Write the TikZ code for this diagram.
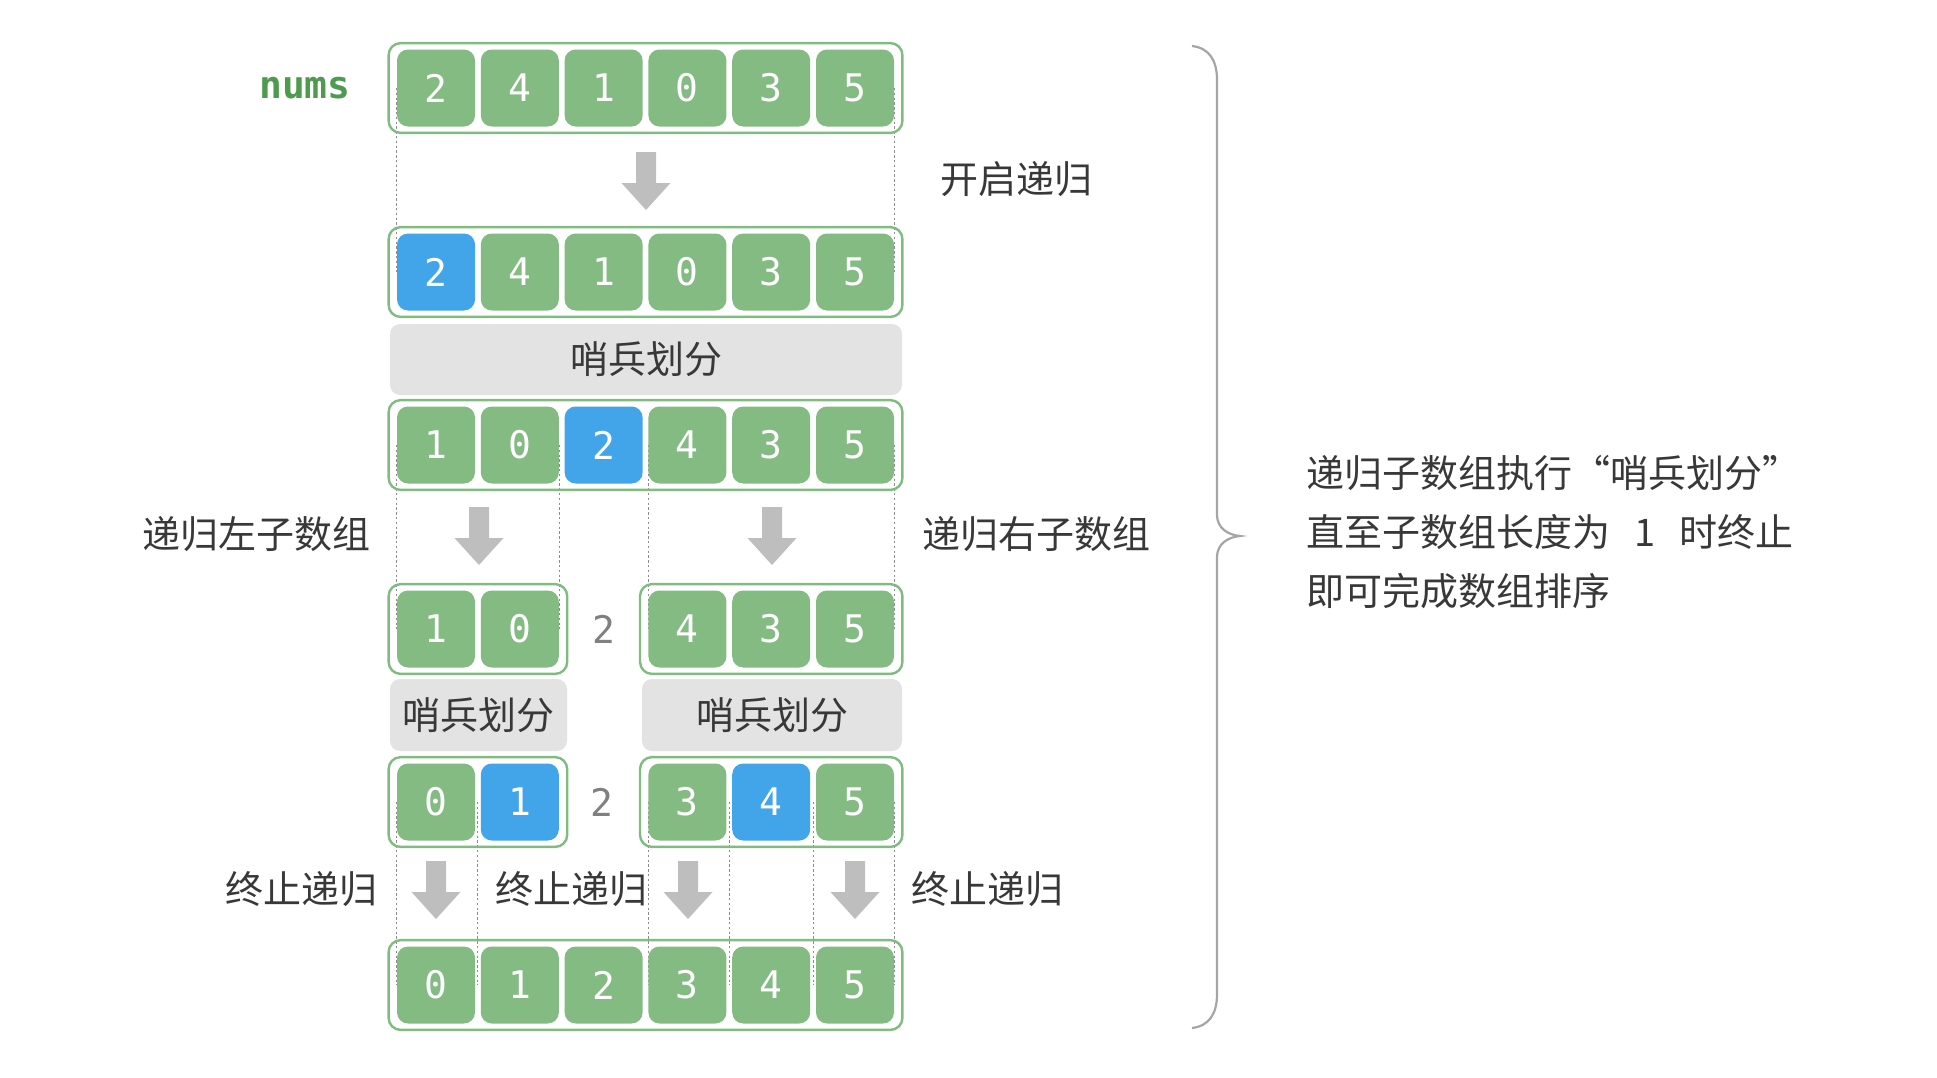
\documentclass[tikz,border=0pt]{standalone}
\usepackage{fontspec}
\newfontfamily\cjk{Noto Sans CJK SC}
\newfontfamily\mono{DejaVu Sans Mono}
\usetikzlibrary{fit,calc}
\definecolor{cgreen}{RGB}{131,187,131}
\definecolor{cborder}{RGB}{128,188,128}
\definecolor{cblue}{RGB}{66,165,234}
\definecolor{cgraybox}{RGB}{227,227,227}
\definecolor{carrow}{RGB}{190,190,190}
\definecolor{ctext}{RGB}{56,56,56}
\definecolor{cnums}{RGB}{78,154,78}
\definecolor{cguide}{RGB}{140,140,140}
\definecolor{cbrace}{RGB}{165,165,165}
\definecolor{cmid}{RGB}{128,128,128}
\pgfdeclarelayer{bg}
\pgfsetlayers{bg,main}
\tikzset{
  cell/.style={fill=cgreen, rounded corners=5.5pt, minimum width=39pt, minimum height=38.5pt,
    inner sep=0pt, text=white, font=\mono\fontsize{19}{19}\selectfont},
  bcell/.style={cell, fill=cblue},
  outer/.style={draw=cborder, line width=1.2pt, rounded corners=6pt, inner xsep=4pt, inner ysep=3pt},
  gbox/.style={fill=cgraybox, rounded corners=5pt, text=ctext, inner sep=0pt,
    font=\cjk\fontsize{19}{19}\selectfont},
  lbl/.style={text=ctext, inner sep=0pt, font=\cjk\fontsize{19}{19}\selectfont},
  midnum/.style={text=cmid, inner sep=0pt, font=\mono\fontsize{19}{19}\selectfont},
  guide/.style={draw=cguide, line width=0.5pt, dash pattern=on 1.2pt off 1.2pt},
  bracestyle/.style={draw=cbrace, line width=1.1pt},
  downarrow/.pic={\fill[carrow] (-10,-29) -- (10,-29) -- (10,2) -- (24.5,2) -- (0,29)
    -- (-24.5,2) -- (-10,2) -- cycle;}
}
\begin{document}
\begin{tikzpicture}[x=0.5pt,y=-0.5pt]
\useasboundingbox (0,0) rectangle (1937,1077);
\def\cx#1{(436+83.8*(#1-1))}
% row a
\foreach \v/\s [count=\i] in {2/cell,4/cell,1/cell,0/cell,3/cell,5/cell}
  \node[\s] (a\i) at ({436+83.8*(\i-1)},88) {\v};
% row b
\foreach \v/\s [count=\i] in {2/bcell,4/cell,1/cell,0/cell,3/cell,5/cell}
  \node[\s] (b\i) at ({436+83.8*(\i-1)},272) {\v};
% row c
\foreach \v/\s [count=\i] in {1/cell,0/cell,2/bcell,4/cell,3/cell,5/cell}
  \node[\s] (c\i) at ({436+83.8*(\i-1)},445) {\v};
% row d
\foreach \v/\s/\i in {1/cell/1,0/cell/2,4/cell/4,3/cell/5,5/cell/6}
  \node[\s] (d\i) at ({436+83.8*(\i-1)},629) {\v};
% row e
\foreach \v/\s/\i in {0/cell/1,1/bcell/2,3/cell/4,4/bcell/5,5/cell/6}
  \node[\s] (e\i) at ({436+83.8*(\i-1)},802) {\v};
% row f
\foreach \v/\s [count=\i] in {0/cell,1/cell,2/cell,3/cell,4/cell,5/cell}
  \node[\s] (f\i) at ({436+83.8*(\i-1)},985) {\v};

% outer boxes
\node[outer, fit=(a1)(a6)] (A) {};
\node[outer, fit=(b1)(b6)] (B) {};
\node[outer, fit=(c1)(c6)] (C) {};
\node[outer, fit=(d1)(d2)] (DL) {};
\node[outer, fit=(d4)(d6)] (DR) {};
\node[outer, fit=(e1)(e2)] (EL) {};
\node[outer, fit=(e4)(e6)] (ER) {};
\node[outer, fit=(f1)(f6)] (F) {};

% gray partition boxes
\node[gbox, minimum width=256pt, minimum height=35.5pt] (g1) at (646,359.5) {哨兵划分};
\node[gbox, minimum width=88.5pt, minimum height=36pt] (g2) at (478.5,715) {哨兵划分};
\node[gbox, minimum width=130pt, minimum height=36pt] (g3) at (772,715) {哨兵划分};

% pivot labels
\node[midnum] (m1) at (604,629) {2};
\node[midnum] (m2) at (602,802) {2};

% guides
\begin{pgfonlayer}{bg}
\draw[guide] (a1.west) -- (b1.west);
\draw[guide] (a6.east) -- (b6.east);
\draw[guide] (c1.west) -- (d1.west);
\draw[guide] (c2.east) -- (d2.east);
\draw[guide] (c4.west) -- (d4.west);
\draw[guide] (c6.east) -- (d6.east);
\draw[guide] (e1.west) -- (f1.west);
\draw[guide] ($(e1.east)!0.5!(e2.west)$) -- ($(f1.east)!0.5!(f2.west)$);
\draw[guide] (e4.west) -- (f4.west);
\draw[guide] ($(e4.east)!0.5!(e5.west)$) -- ($(f4.east)!0.5!(f5.west)$);
\draw[guide] ($(e5.east)!0.5!(e6.west)$) -- ($(f5.east)!0.5!(f6.west)$);
\draw[guide] (e6.east) -- (f6.east);
\end{pgfonlayer}

% arrows
\pic at (646,181) {downarrow};
\pic at (479,536) {downarrow};
\pic at (772,536) {downarrow};
\pic at (436,890) {downarrow};
\pic at (688,890) {downarrow};
\pic at (855,890) {downarrow};

% labels
\node[text=cnums, inner sep=0pt, font=\mono\bfseries\fontsize{19}{19}\selectfont] (nums) at (305,88) {nums};
\node[lbl] (l1) at (1016,179) {开启递归};
\node[lbl] (l2) at (256,534) {递归左子数组};
\node[lbl] (l3) at (1036,534) {递归右子数组};
\node[lbl] (l4) at (301,889) {终止递归};
\node[lbl] (l5) at (571,889) {终止递归};
\node[lbl] (l6) at (987,889) {终止递归};

% brace
\draw[bracestyle] (1192,46) .. controls (1209,48) and (1217,60) .. (1217,80)
  -- (1217,515) .. controls (1217,528) and (1228,535) .. (1240,536)
  .. controls (1228,537) and (1217,544) .. (1217,557)
  -- (1217,994) .. controls (1217,1014) and (1209,1026) .. (1192,1028);

% summary text
\node[lbl, align=left, anchor=west, font=\cjk\fontsize{19}{29.5}\selectfont] (sum) at (1306,532)
  {递归子数组执行“哨兵划分”\\直至子数组长度为\hspace{12pt}1\hspace{12pt}时终止\\即可完成数组排序};
\end{tikzpicture}
\end{document}
